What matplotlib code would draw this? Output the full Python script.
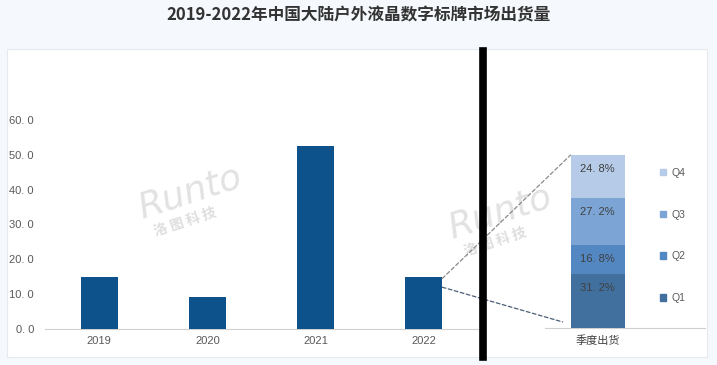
import matplotlib
matplotlib.use("Agg")
import matplotlib.pyplot as plt
from matplotlib.patches import Rectangle, ConnectionPatch
from matplotlib.lines import Line2D

plt.rcParams['font.family'] = ['Noto Sans CJK SC', 'DejaVu Sans']
num_font = ['Liberation Sans', 'Noto Sans CJK SC']

title = "2019-2022年中国大陆户外液晶数字标牌市场出货量"
years = ["2019", "2020", "2021", "2022"]
shipments = [15.0, 9.2, 52.6, 15.0]
yticks = [0, 10, 20, 30, 40, 50, 60]
ytick_labels = ["0. 0", "10. 0", "20. 0", "30. 0", "40. 0", "50. 0", "60. 0"]
quarters = ["Q1", "Q2", "Q3", "Q4"]
quarter_share = [31.2, 16.8, 27.2, 24.8]
quarter_labels = ["31. 2%", "16. 8%", "27. 2%", "24. 8%"]
right_category = "季度出货"

bar_color = "#0d528b"
q_colors = ["#41709f", "#5287c2", "#7ca5d5", "#b5cbe7"]
text_color = "#595959"

W, H = 717, 365
fig = plt.figure(figsize=(W / 100, H / 100), dpi=100)
fig.patch.set_facecolor("#f5f8fc")

def fx(px):
    return px / W

def fy(py):
    return 1 - py / H

# white panel
fig.patches.append(Rectangle((fx(7), fy(357)), fx(707) - fx(7), fy(49) - fy(357),
                             transform=fig.transFigure, facecolor="white",
                             edgecolor="#e6e9ee", linewidth=0.8, zorder=-2))

fig.text(0.5, fy(15), title, ha="center", va="center", fontsize=12,
         fontweight="bold", color="#333333")

# left axes
ax = fig.add_axes([fx(45), fy(329), fx(478) - fx(45), fy(120) - fy(329)])
ax.set_zorder(1)
ax.set_facecolor("none")
x = range(len(years))
ax.bar(x, shipments, width=0.34, color=bar_color, zorder=3)
ax.set_xlim(-0.5, 3.5)
ax.set_ylim(0, 60)
ax.set_yticks(yticks)
ax.set_yticklabels(ytick_labels, fontsize=8, color=text_color, family=num_font)
ax.set_xticks(list(x))
ax.set_xticklabels(years, fontsize=8, color=text_color, family=num_font)
for s in ["top", "right", "left"]:
    ax.spines[s].set_visible(False)
ax.spines["bottom"].set_color("#d0d0d0")
ax.tick_params(axis="both", length=0, pad=5)
ax.tick_params(axis="y", pad=8)

# right axes
ax2 = fig.add_axes([fx(545), fy(328), fx(705) - fx(545), fy(155) - fy(328)])
ax2.set_zorder(1)
ax2.set_facecolor("none")
ax2.set_xlim(0, 1)
ax2.set_ylim(0, 100)
bottom = 0
for q, v, c, lab in zip(quarters, quarter_share, q_colors, quarter_labels):
    ax2.bar([0.33], [v], bottom=bottom, width=0.34, color=c, label=q, zorder=3)
    ax2.annotate(lab, xy=(0.33, bottom + v), xytext=(0, -10), textcoords="offset points",
                 ha="center", va="center", fontsize=8, color="#404040", zorder=4,
                 family=num_font)
    bottom += v
ax2.set_yticks([])
ax2.set_xticks([0.33])
ax2.set_xticklabels([right_category], fontsize=8, color="#404040")
ax2.tick_params(axis="x", length=0, pad=5)
for s in ["top", "right", "left"]:
    ax2.spines[s].set_visible(False)
ax2.spines["bottom"].set_color("#d0d0d0")

handles = [Rectangle((0, 0), 1, 1, color=c) for c in q_colors][::-1]
leg = ax2.legend(handles, quarters[::-1], loc="center left", bbox_to_anchor=(0.66, 0.535),
                 frameon=False, handlelength=0.6, handleheight=0.6,
                 handletextpad=0.5, labelspacing=3.05,
                 prop={'family': num_font, 'size': 7.5})
for t in leg.get_texts():
    t.set_color(text_color)

# dashed connectors from 2022 bar to stacked bar
con1 = ConnectionPatch(xyA=(3 + 0.17, shipments[3] - 0.5), coordsA=ax.transData,
                       xyB=(0.33 - 0.17, 100), coordsB=ax2.transData,
                       linestyle=(0, (3, 2)), color="#8a8a8a", linewidth=0.9, zorder=5)
con2 = ConnectionPatch(xyA=(3 + 0.17, shipments[3] - 3), coordsA=ax.transData,
                       xyB=(0.33 - 0.22, 3.5), coordsB=ax2.transData,
                       linestyle=(0, (3, 2)), color="#4a5e78", linewidth=0.9, zorder=5)
fig.add_artist(con1)
fig.add_artist(con2)

# thick black divider
fig.add_artist(Line2D([fx(483), fx(483)], [fy(51), fy(357)], transform=fig.transFigure,
                      color="black", linewidth=5.5, zorder=6))

# watermarks
for (wx, wy) in [(190, 200), (500, 220)]:
    fig.text(fx(wx), fy(wy - 8), "Runto", fontsize=26, color="#d8d8d8", alpha=0.75,
             rotation=18, ha="center", va="center", family="DejaVu Sans",
             fontstyle="italic", zorder=0.5)
    fig.text(fx(wx - 5), fy(wy + 22), "洛 图 科 技", fontsize=10, color="#d3d3d3",
             alpha=0.75, rotation=18, ha="center", va="center", fontweight="bold", zorder=0.5)

fig.savefig("out.png", dpi=100, facecolor=fig.get_facecolor())
